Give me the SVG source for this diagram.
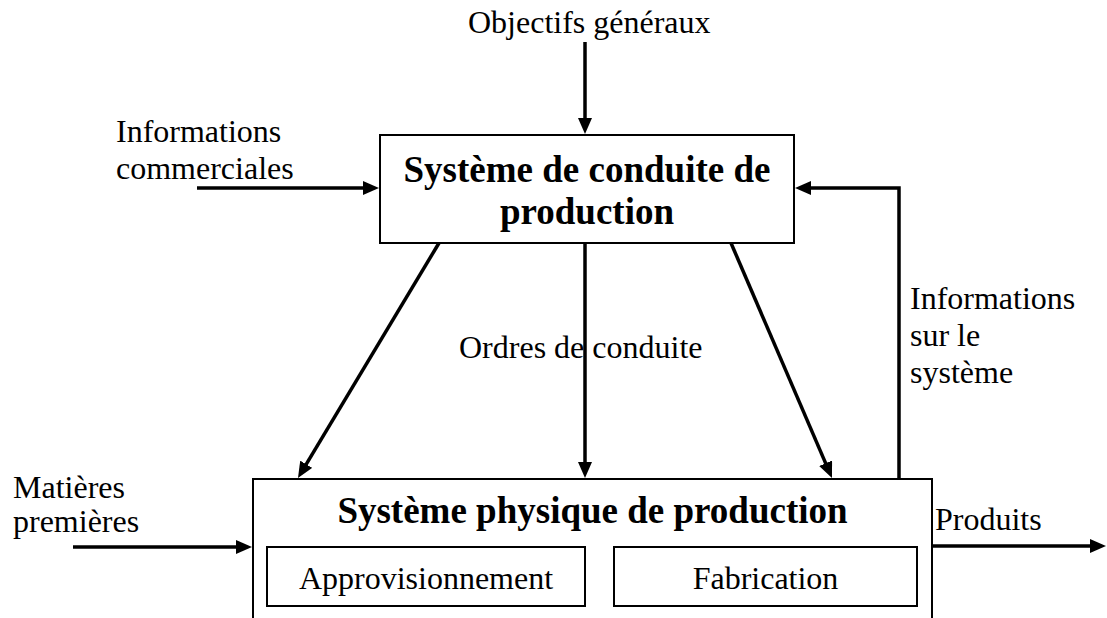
<svg xmlns="http://www.w3.org/2000/svg" width="1107" height="618" viewBox="0 0 1107 618">
<style>
  .box { fill: #ffffff; stroke: #000000; stroke-width: 2; }
  .conn { fill: none; stroke: #000000; stroke-width: 3.5; }
  .lbl { font-family: "Liberation Serif", "Times New Roman", serif; font-size: 32px; fill: #000000; }
  .title { font-family: "Liberation Serif", "Times New Roman", serif; font-size: 37px; font-weight: bold; fill: #000000; text-anchor: middle; }
</style>
<defs>
  <marker id="arrow" markerUnits="userSpaceOnUse" markerWidth="16" markerHeight="14" refX="8" refY="7" orient="auto" viewBox="0 0 16 14">
    <path d="M0,0 L16,7 L0,14 z" fill="#000000"/>
  </marker>
</defs>
<rect width="1107" height="618" fill="#ffffff"/>

<g id="node-conduite">
  <rect class="box" x="380" y="135" width="414" height="108"/>
  <text class="title" x="587" y="182">Système de conduite de</text>
  <text class="title" x="587" y="224">production</text>
</g>

<g id="node-physique">
  <rect class="box" x="253" y="479" width="679" height="160"/>
  <text class="title" x="592.5" y="523">Système physique de production</text>
</g>

<g id="node-appro">
  <rect class="box" x="267" y="547" width="318" height="59"/>
  <text class="lbl" x="426" y="589" text-anchor="middle">Approvisionnement</text>
</g>

<g id="node-fabrication">
  <rect class="box" x="614" y="547" width="303" height="59"/>
  <text class="lbl" x="765.5" y="589" text-anchor="middle">Fabrication</text>
</g>

<g id="connectors">
  <line class="conn" x1="585" y1="42" x2="585" y2="126" marker-end="url(#arrow)"/>
  <line class="conn" x1="197" y1="188" x2="371" y2="188" marker-end="url(#arrow)"/>
  <path class="conn" d="M899,479 V188 H803" marker-end="url(#arrow)"/>
  <line class="conn" x1="439" y1="243" x2="302.1" y2="471.1" marker-end="url(#arrow)"/>
  <line class="conn" x1="585" y1="243" x2="585" y2="470" marker-end="url(#arrow)"/>
  <line class="conn" x1="731" y1="243" x2="828.8" y2="470.6" marker-end="url(#arrow)"/>
  <line class="conn" x1="73" y1="547" x2="244" y2="547" marker-end="url(#arrow)"/>
  <line class="conn" x1="932" y1="546" x2="1098" y2="546" marker-end="url(#arrow)"/>
</g>

<g id="labels">
  <text class="lbl" x="468" y="33">Objectifs généraux</text>
  <text class="lbl" x="116" y="142">Informations</text>
  <text class="lbl" x="116" y="179">commerciales</text>
  <text class="lbl" x="910" y="309">Informations</text>
  <text class="lbl" x="910" y="346">sur le</text>
  <text class="lbl" x="910" y="383">système</text>
  <text class="lbl" x="459" y="358">Ordres de conduite</text>
  <text class="lbl" x="13" y="498">Matières</text>
  <text class="lbl" x="13" y="532">premières</text>
  <text class="lbl" x="935" y="530">Produits</text>
</g>
</svg>
